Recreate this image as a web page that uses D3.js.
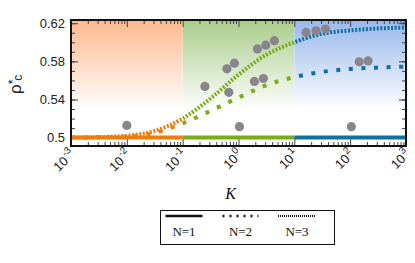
<!DOCTYPE html>
<html>
<head>
<meta charset="utf-8">
<script src="https://cdn.jsdelivr.net/npm/d3@7"></script>
<style>
  body { margin: 0; background: #fff; }
  svg { display: block; }
</style>
</head>
<body>
<script>
// values
var kGrid = [0.001, 0.00316, 0.01, 0.0316, 0.1, 0.316, 1, 3.16, 10, 31.6, 100, 316, 1000];
var rhoN2 = [0.500, 0.5003, 0.501, 0.505, 0.515, 0.528, 0.542, 0.555, 0.5635, 0.569, 0.572, 0.5735, 0.5745];
var rhoN3 = [0.500, 0.5005, 0.502, 0.507, 0.520, 0.541, 0.566, 0.587, 0.600, 0.609, 0.6125, 0.6145, 0.6155];
var rhoN1 = [0.5, 0.5, 0.5, 0.5, 0.5, 0.5, 0.5, 0.5, 0.5, 0.5, 0.5, 0.5, 0.5];

var simK   = [0.01, 0.25, 0.62, 0.845, 0.67, 1.04, 1.93, 2.79, 2.18, 3.08, 4.4, 16.2, 24.5, 36.3, 105, 145, 209];
var simRho = [0.5128, 0.5537, 0.5722, 0.5781, 0.5475, 0.5115, 0.559, 0.562, 0.593, 0.597, 0.6017, 0.6104, 0.612, 0.6139, 0.5115, 0.5795, 0.5805];

var regions = [
  {from: 0.001, to: 0.1, line: "#ee7d0e", top: "#fdb98e"},
  {from: 0.1, to: 10, line: "#7aab18", top: "#a9cd8b"},
  {from: 10, to: 1000, line: "#12709f", top: "#98b8ec"}
];
var yTicks = [0.5, 0.54, 0.58, 0.62];
var xExps = [-3, -2, -1, 0, 1, 2, 3];
var legendNames = ["N=1", "N=2", "N=3"];

var W = 415, H = 263;
var pLeft = 71, pRight = 406, pTop = 20, pBottom = 146;

var svg = d3.select("body").append("svg")
    .attr("width", W)
    .attr("height", H);

var x = d3.scaleLog().domain([1e-3, 1e3]).range([pLeft, pRight]);
var y = d3.scaleLinear().domain([0.4912, 0.6234]).range([pBottom, pTop]);

var defs = svg.append("defs");

regions.forEach(function(r, i) {
    var g = defs.append("linearGradient")
        .attr("id", "grad" + i)
        .attr("x1", 0).attr("y1", 0).attr("x2", 0).attr("y2", 1);
    g.append("stop").attr("offset", "0%").attr("stop-color", r.top);
    g.append("stop").attr("offset", "72%").attr("stop-color", "#fff");
    g.append("stop").attr("offset", "100%").attr("stop-color", "#fff");

    defs.append("clipPath")
        .attr("id", "clip" + i)
        .append("rect")
        .attr("x", x(r.from))
        .attr("y", 0)
        .attr("width", x(r.to) - x(r.from))
        .attr("height", H);
});

// shaded regions
svg.selectAll(".region")
    .data(regions)
    .enter()
    .append("rect")
    .attr("class", "region")
    .attr("x", function(d) { return x(d.from); })
    .attr("y", pTop)
    .attr("width", function(d) { return x(d.to) - x(d.from); })
    .attr("height", pBottom - pTop)
    .style("fill", function(d, i) { return "url(#grad" + i + ")"; });

// minor ticks every decade
var minorK = [];
for (var e = -3; e < 3; e++) {
    for (var m = 2; m <= 9; m++) minorK.push(m * Math.pow(10, e));
}
var majorK = xExps.map(function(p) { return Math.pow(10, p); });
var minorY = d3.range(0.5, 0.621, 0.01);

var tickColor = "#444";

function styleTicks(g) {
    g.select(".domain").remove();
    g.selectAll("line").attr("stroke", tickColor).attr("stroke-width", 1);
}

svg.append("g").attr("transform", "translate(0," + pBottom + ")")
    .call(d3.axisBottom(x).tickValues(minorK).tickSize(-4).tickFormat(""))
    .call(styleTicks);
svg.append("g").attr("transform", "translate(0," + pBottom + ")")
    .call(d3.axisBottom(x).tickValues(majorK).tickSize(-7).tickFormat(""))
    .call(styleTicks);
svg.append("g").attr("transform", "translate(0," + pTop + ")")
    .call(d3.axisTop(x).tickValues(minorK).tickSize(-4).tickFormat(""))
    .call(styleTicks);
svg.append("g").attr("transform", "translate(0," + pTop + ")")
    .call(d3.axisTop(x).tickValues(majorK).tickSize(-7).tickFormat(""))
    .call(styleTicks);

svg.append("g").attr("transform", "translate(" + pLeft + ",0)")
    .call(d3.axisLeft(y).tickValues(minorY).tickSize(-4).tickFormat(""))
    .call(styleTicks);
svg.append("g").attr("transform", "translate(" + pRight + ",0)")
    .call(d3.axisRight(y).tickValues(minorY).tickSize(-4).tickFormat(""))
    .call(styleTicks);

var yAxis = svg.append("g").attr("transform", "translate(" + pLeft + ",0)")
    .call(d3.axisLeft(y).tickValues(yTicks).tickSize(-7).tickPadding(6)
        .tickFormat(function(d) { return String(+d.toFixed(2)); }));
yAxis.call(styleTicks);
yAxis.selectAll("text")
    .style("font-family", "Liberation Sans, Arial, sans-serif")
    .style("font-size", "13px")
    .attr("fill", "#222");

svg.append("g").attr("transform", "translate(" + pRight + ",0)")
    .call(d3.axisRight(y).tickValues(yTicks).tickSize(-7).tickFormat(""))
    .call(styleTicks);

// curves, coloured per region through clip paths
var line = d3.line()
    .x(function(d) { return x(d[0]); })
    .y(function(d) { return y(d[1]); })
    .curve(d3.curveMonotoneX);

var curves = [
    {vals: rhoN1, width: 4, dash: null},
    {vals: rhoN2, width: 4, dash: "4,8.6"},
    {vals: rhoN3, width: 4, dash: "2,1.6"}
];

regions.forEach(function(r, i) {
    var g = svg.append("g").attr("clip-path", "url(#clip" + i + ")");
    curves.forEach(function(c) {
        g.append("path")
            .datum(d3.zip(kGrid, c.vals))
            .attr("d", line)
            .attr("fill", "none")
            .attr("stroke", r.line)
            .attr("stroke-width", c.width)
            .attr("stroke-dasharray", c.dash);
    });
});

// simulation points
svg.selectAll(".pt")
    .data(d3.zip(simK, simRho))
    .enter()
    .append("circle")
    .attr("class", "pt")
    .attr("cx", function(d) { return x(d[0]); })
    .attr("cy", function(d) { return y(d[1]); })
    .attr("r", 4.6)
    .attr("fill", "#88858d");

// frame
svg.append("rect")
    .attr("x", pLeft).attr("y", pTop)
    .attr("width", pRight - pLeft).attr("height", pBottom - pTop)
    .attr("fill", "none")
    .attr("stroke", "#111")
    .attr("stroke-width", 2);

// x tick labels 10^n rotated
var xl = svg.selectAll(".xl")
    .data(xExps)
    .enter()
    .append("text")
    .attr("class", "xl")
    .attr("transform", function(d) {
        return "translate(" + (x(Math.pow(10, d)) + 5) + "," + (pBottom + 9) + ") rotate(-45)";
    })
    .attr("text-anchor", "end")
    .style("font-family", "Liberation Sans, Arial, sans-serif")
    .style("font-size", "13px")
    .attr("fill", "#222");
xl.append("tspan").text("10");
xl.append("tspan")
    .attr("dx", 1)
    .attr("dy", -6)
    .style("font-size", "10px")
    .text(function(d) { return d < 0 ? "-" + (-d) : d; });

// axis titles
svg.append("text")
    .attr("x", x(1) - 8)
    .attr("y", 199)
    .attr("text-anchor", "middle")
    .style("font-family", "Liberation Serif, Times New Roman, serif")
    .style("font-style", "italic")
    .style("font-size", "16px")
    .attr("fill", "#111")
    .text("K");

var yl = svg.append("text")
    .attr("transform", "translate(21,94) rotate(-90)")
    .style("font-family", "Liberation Sans, Arial, sans-serif")
    .style("font-size", "17px")
    .attr("fill", "#222");
yl.append("tspan").text("ρ");
yl.append("tspan").attr("dy", -4).style("font-size", "12px").text("*");
yl.append("tspan").attr("dx", -1).attr("dy", 5).style("font-size", "12px").text("c");

// legend
var lg = svg.append("g");
lg.append("rect")
    .attr("x", 160.5).attr("y", 210.5)
    .attr("width", 174).attr("height", 34)
    .attr("fill", "#fff")
    .attr("stroke", "#111")
    .attr("stroke-width", 1);

var legX = d3.scalePoint().domain(legendNames).range([184, 297]);
var legDash = [null, "2,5", "1,1"];
var legWidth = [2.5, 2.5, 2];
var legLen = [37, 36, 38];

lg.selectAll(".ll")
    .data(legendNames)
    .enter()
    .append("line")
    .attr("x1", function(d, i) { return legX(d) - legLen[i] / 2; })
    .attr("x2", function(d, i) { return legX(d) + legLen[i] / 2; })
    .attr("y1", 216)
    .attr("y2", 216)
    .attr("stroke", "#111")
    .attr("stroke-width", function(d, i) { return legWidth[i]; })
    .attr("stroke-dasharray", function(d, i) { return legDash[i]; });

lg.selectAll(".lt")
    .data(legendNames)
    .enter()
    .append("text")
    .attr("x", function(d) { return legX(d); })
    .attr("y", 236)
    .attr("text-anchor", "middle")
    .style("font-family", "Liberation Serif, Times New Roman, serif")
    .style("font-size", "13px")
    .attr("fill", "#111")
    .text(function(d) { return d; });
</script>
</body>
</html>
